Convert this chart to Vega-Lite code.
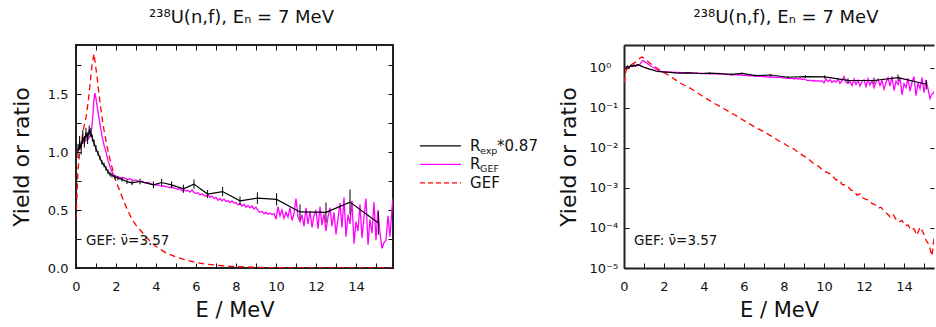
{
 "$schema": "https://vega.github.io/schema/vega-lite/v6.json",
 "padding": {"left": 8, "top": 7, "right": 0, "bottom": 0},
 "spacing": 16,
 "config": {
  "font": "DejaVu Sans",
  "axis": {"labelFont": "DejaVu Sans", "titleFont": "DejaVu Sans", "labelFontSize": 13, "titleFontSize": 21, "titleFontWeight": "normal", "labelColor": "#111", "titleColor": "#111", "tickColor": "#111", "domainColor": "#222", "grid": false, "labelFlush": false, "labelOverlap": false},
  "title": {"font": "DejaVu Sans", "fontSize": 18, "fontWeight": "normal", "color": "#111"}
 },
 "datasets": {
  "rexp": [
   {"E":0.10,"y":1.01,"lo":0.95,"hi":1.07},{"E":0.18,"y":1.08,"lo":1.02,"hi":1.14},{"E":0.26,"y":1.04,"lo":0.98,"hi":1.10},{"E":0.34,"y":1.13,"lo":1.07,"hi":1.19},{"E":0.42,"y":1.09,"lo":1.04,"hi":1.14},{"E":0.50,"y":1.16,"lo":1.11,"hi":1.21},{"E":0.58,"y":1.12,"lo":1.07,"hi":1.17},{"E":0.66,"y":1.19,"lo":1.15,"hi":1.23},{"E":0.74,"y":1.17,"lo":1.13,"hi":1.21},{"E":0.82,"y":1.12,"lo":1.09,"hi":1.15},{"E":0.90,"y":1.08,"lo":1.05,"hi":1.11},{"E":1.00,"y":1.03,"lo":1.00,"hi":1.06},{"E":1.10,"y":0.99,"lo":0.97,"hi":1.01},{"E":1.20,"y":0.95,"lo":0.93,"hi":0.97},{"E":1.30,"y":0.91,"lo":0.89,"hi":0.93},{"E":1.40,"y":0.89,"lo":0.87,"hi":0.91},{"E":1.50,"y":0.86,"lo":0.84,"hi":0.88},{"E":1.60,"y":0.83,"lo":0.81,"hi":0.85},{"E":1.70,"y":0.81,"lo":0.79,"hi":0.83},{"E":1.80,"y":0.80,"lo":0.78,"hi":0.82},{"E":1.95,"y":0.785,"lo":0.765,"hi":0.805},{"E":2.10,"y":0.775,"lo":0.755,"hi":0.795},{"E":2.30,"y":0.765,"lo":0.745,"hi":0.785},{"E":2.55,"y":0.745,"lo":0.725,"hi":0.765},{"E":2.80,"y":0.735,"lo":0.715,"hi":0.755},{"E":3.20,"y":0.747,"lo":0.722,"hi":0.772},{"E":3.87,"y":0.718,"lo":0.688,"hi":0.748},{"E":4.28,"y":0.738,"lo":0.708,"hi":0.768},{"E":4.78,"y":0.718,"lo":0.688,"hi":0.748},{"E":5.37,"y":0.684,"lo":0.649,"hi":0.719},{"E":5.90,"y":0.724,"lo":0.684,"hi":0.764},{"E":6.58,"y":0.638,"lo":0.603,"hi":0.673},{"E":7.33,"y":0.66,"lo":0.62,"hi":0.70},{"E":8.20,"y":0.58,"lo":0.544,"hi":0.616},{"E":9.07,"y":0.603,"lo":0.553,"hi":0.653},{"E":10.03,"y":0.592,"lo":0.539,"hi":0.645},{"E":11.20,"y":0.484,"lo":0.419,"hi":0.549},{"E":12.50,"y":0.48,"lo":0.394,"hi":0.566},{"E":13.70,"y":0.569,"lo":0.461,"hi":0.677},{"E":15.12,"y":0.388,"lo":0.288,"hi":0.488}
  ],
  "rgef": [
   {"E":0.05,"y":1.00},{"E":0.1,"y":1.02},{"E":0.2,"y":1.05},{"E":0.3,"y":1.08},{"E":0.4,"y":1.09},{"E":0.5,"y":1.10},{"E":0.6,"y":1.11},{"E":0.7,"y":1.14},{"E":0.8,"y":1.22},{"E":0.9,"y":1.46},{"E":0.95,"y":1.51},{"E":1.0,"y":1.46},{"E":1.1,"y":1.35},{"E":1.2,"y":1.24},{"E":1.3,"y":1.14},{"E":1.4,"y":1.06},{"E":1.5,"y":1.00},{"E":1.6,"y":0.93},{"E":1.7,"y":0.875},{"E":1.8,"y":0.83},{"E":1.9,"y":0.80},{"E":2.0,"y":0.79},
   {"E":2.1,"y":0.785},{"E":2.2,"y":0.78},{"E":2.3,"y":0.775},{"E":2.4,"y":0.78},{"E":2.5,"y":0.77},{"E":2.6,"y":0.765},{"E":2.7,"y":0.77},{"E":2.8,"y":0.76},{"E":2.9,"y":0.755},{"E":3.0,"y":0.76},{"E":3.1,"y":0.75},{"E":3.2,"y":0.745},{"E":3.3,"y":0.75},{"E":3.4,"y":0.74},{"E":3.5,"y":0.735},{"E":3.6,"y":0.74},{"E":3.7,"y":0.73},{"E":3.8,"y":0.725},{"E":3.9,"y":0.72},{"E":4.0,"y":0.715},{"E":4.1,"y":0.72},{"E":4.2,"y":0.71},{"E":4.3,"y":0.705},{"E":4.4,"y":0.71},{"E":4.5,"y":0.70},{"E":4.6,"y":0.70},{"E":4.7,"y":0.695},{"E":4.8,"y":0.70},{"E":4.9,"y":0.69},
   {"E":5.0,"y":0.685},{"E":5.1,"y":0.68},{"E":5.2,"y":0.685},{"E":5.3,"y":0.665},{"E":5.4,"y":0.675},{"E":5.5,"y":0.665},{"E":5.6,"y":0.67},{"E":5.7,"y":0.655},{"E":5.8,"y":0.675},{"E":5.9,"y":0.65},{"E":6.0,"y":0.645},{"E":6.1,"y":0.65},{"E":6.2,"y":0.63},{"E":6.3,"y":0.64},{"E":6.4,"y":0.625},{"E":6.5,"y":0.62},{"E":6.6,"y":0.635},{"E":6.7,"y":0.61},{"E":6.8,"y":0.62},{"E":6.9,"y":0.60},{"E":7.0,"y":0.61},{"E":7.1,"y":0.585},{"E":7.2,"y":0.60},{"E":7.3,"y":0.58},{"E":7.4,"y":0.595},{"E":7.5,"y":0.575},{"E":7.6,"y":0.58},{"E":7.7,"y":0.565},{"E":7.8,"y":0.58},{"E":7.9,"y":0.56},{"E":8.0,"y":0.565},{"E":8.1,"y":0.545},{"E":8.2,"y":0.555},{"E":8.3,"y":0.535},{"E":8.4,"y":0.55},{"E":8.5,"y":0.525},{"E":8.6,"y":0.54},{"E":8.7,"y":0.52},{"E":8.8,"y":0.535},{"E":8.9,"y":0.51},{"E":9.0,"y":0.525},{"E":9.1,"y":0.495},{"E":9.2,"y":0.48},{"E":9.3,"y":0.49},{"E":9.4,"y":0.47},{"E":9.5,"y":0.48},{"E":9.6,"y":0.465},{"E":9.7,"y":0.475},{"E":9.8,"y":0.46},{"E":9.9,"y":0.47},
   {"E":10.0,"y":0.42},{"E":10.1,"y":0.53},{"E":10.2,"y":0.45},{"E":10.3,"y":0.50},{"E":10.4,"y":0.43},{"E":10.5,"y":0.48},{"E":10.6,"y":0.44},{"E":10.7,"y":0.52},{"E":10.8,"y":0.41},{"E":10.9,"y":0.47},{"E":11.0,"y":0.60},{"E":11.1,"y":0.44},{"E":11.2,"y":0.40},{"E":11.3,"y":0.46},{"E":11.4,"y":0.36},{"E":11.5,"y":0.52},{"E":11.6,"y":0.38},{"E":11.7,"y":0.49},{"E":11.8,"y":0.35},{"E":11.9,"y":0.45},{"E":12.0,"y":0.50},{"E":12.1,"y":0.34},{"E":12.2,"y":0.53},{"E":12.3,"y":0.37},{"E":12.4,"y":0.47},{"E":12.5,"y":0.32},{"E":12.6,"y":0.44},{"E":12.7,"y":0.52},{"E":12.8,"y":0.36},{"E":12.9,"y":0.48},{"E":13.0,"y":0.29},{"E":13.1,"y":0.43},{"E":13.2,"y":0.56},{"E":13.3,"y":0.35},{"E":13.4,"y":0.61},{"E":13.5,"y":0.27},{"E":13.6,"y":0.46},{"E":13.7,"y":0.38},{"E":13.8,"y":0.58},{"E":13.9,"y":0.21},{"E":14.0,"y":0.40},{"E":14.1,"y":0.32},{"E":14.2,"y":0.55},{"E":14.3,"y":0.26},{"E":14.4,"y":0.44},{"E":14.5,"y":0.60},{"E":14.6,"y":0.20},{"E":14.7,"y":0.42},{"E":14.8,"y":0.30},{"E":14.9,"y":0.57},{"E":15.0,"y":0.24},{"E":15.1,"y":0.50},{"E":15.2,"y":0.30},{"E":15.3,"y":0.17},{"E":15.4,"y":0.22},{"E":15.5,"y":0.24},{"E":15.6,"y":0.45},{"E":15.7,"y":0.27},{"E":15.8,"y":0.52},{"E":15.85,"y":0.60}
  ],
  "gef": [
   {"E":0.0,"y":0.42},{"E":0.1,"y":0.85},{"E":0.2,"y":1.02},{"E":0.3,"y":1.12},{"E":0.4,"y":1.22},{"E":0.5,"y":1.30},{"E":0.6,"y":1.42},{"E":0.7,"y":1.58},{"E":0.8,"y":1.75},{"E":0.9,"y":1.85},{"E":1.0,"y":1.72},{"E":1.1,"y":1.58},{"E":1.2,"y":1.43},{"E":1.3,"y":1.30},{"E":1.4,"y":1.19},{"E":1.5,"y":1.10},{"E":1.6,"y":1.01},{"E":1.7,"y":0.94},{"E":1.8,"y":0.87},{"E":1.9,"y":0.80},{"E":2.0,"y":0.75},{"E":2.2,"y":0.66},{"E":2.4,"y":0.57},{"E":2.6,"y":0.49},{"E":2.8,"y":0.42},{"E":3.0,"y":0.37},{"E":3.2,"y":0.33},{"E":3.4,"y":0.29},{"E":3.6,"y":0.25},{"E":3.8,"y":0.215},{"E":4.0,"y":0.185},{"E":4.5,"y":0.13},{"E":5.0,"y":0.095},{"E":5.5,"y":0.068},{"E":6.0,"y":0.048},{"E":6.5,"y":0.034},{"E":7.0,"y":0.025},{"E":7.5,"y":0.018},{"E":7.75,"y":0.0148},{"E":8.0,"y":0.0128},{"E":8.25,"y":0.0106},{"E":8.5,"y":0.0093},{"E":8.75,"y":0.0074},{"E":9.0,"y":0.0062},{"E":9.25,"y":0.0051},{"E":9.5,"y":0.0040},{"E":9.75,"y":0.0034},
   {"E":10.0,"y":0.0026},{"E":10.15,"y":0.00245},{"E":10.3,"y":0.00225},{"E":10.45,"y":0.00192},{"E":10.6,"y":0.00158},{"E":10.75,"y":0.00162},{"E":10.9,"y":0.00122},{"E":11.05,"y":0.00118},{"E":11.2,"y":0.00108},{"E":11.35,"y":0.00088},{"E":11.5,"y":0.00084},{"E":11.65,"y":0.00066},{"E":11.8,"y":0.00071},{"E":11.95,"y":0.00056},{"E":12.1,"y":0.00052},{"E":12.25,"y":0.00049},{"E":12.4,"y":0.00041},{"E":12.55,"y":0.00038},{"E":12.7,"y":0.00031},{"E":12.85,"y":0.00033},{"E":13.0,"y":0.00026},{"E":13.15,"y":0.00023},{"E":13.3,"y":0.00019},{"E":13.45,"y":0.00022},{"E":13.6,"y":0.000165},{"E":13.75,"y":0.00014},{"E":13.9,"y":0.000155},{"E":14.05,"y":0.000115},{"E":14.2,"y":0.000118},{"E":14.35,"y":0.000088},{"E":14.5,"y":0.000095},{"E":14.65,"y":0.000066},{"E":14.8,"y":0.000105},{"E":14.95,"y":0.000078},{"E":15.1,"y":0.00005},{"E":15.25,"y":0.000038},{"E":15.4,"y":0.00002},{"E":15.5,"y":0.000056},{"E":15.65,"y":0.000046},{"E":15.8,"y":0.000035}
  ],
  "leg": [
   {"series":"Rexp","row":1,"main":"R","sub":"exp","tail":"*0.87"},
   {"series":"RGEF","row":2,"main":"R","sub":"GEF","tail":""},
   {"series":"GEF","row":3,"main":"GEF","sub":"","tail":""}
  ]
 },
 "hconcat": [
  {
   "width": 317, "height": 223,
   "title": {"text": "²³⁸U(n,f), Eₙ = 7 MeV", "dx": 7, "offset": 18},
   "view": {"stroke": "#222", "strokeWidth": 2},
   "layer": [
    {"data": {"name": "gef"}, "mark": {"type": "line", "color": "#ff0000", "strokeDash": [6, 4], "strokeWidth": 1.3, "clip": true},
     "encoding": {
      "x": {"field": "E", "type": "quantitative", "scale": {"domain": [0, 15.85], "nice": false, "zero": false},
            "axis": {"orient": "top", "values": [0,1,2,3,4,5,6,7,8,9,10,11,12,13,14,15], "labels": false, "tickSize": -5, "domain": false, "title": null}},
      "y": {"field": "y", "type": "quantitative", "scale": {"domain": [0, 1.925], "nice": false},
            "axis": {"orient": "right", "values": [0,0.25,0.5,0.75,1,1.25,1.5,1.75], "labels": false, "tickSize": -5, "domain": false, "title": null}}
     }},
    {"data": {"name": "rgef"}, "mark": {"type": "line", "color": "#ff00ff", "strokeWidth": 1.3, "clip": true},
     "encoding": {
      "x": {"field": "E", "type": "quantitative", "scale": {"domain": [0, 15.85], "nice": false, "zero": false},
            "axis": {"orient": "bottom", "values": [0,1,2,3,4,5,6,7,8,9,10,11,12,13,14,15], "format": "d", "labelExpr": "datum.value % 2 == 0 ? datum.label : ''", "tickSize": -5, "labelPadding": 17, "domain": false, "title": "E / MeV", "titleY": 42, "titleBaseline": "middle"}},
      "y": {"field": "y", "type": "quantitative", "scale": {"domain": [0, 1.925], "nice": false},
            "axis": {"orient": "left", "values": [0,0.25,0.5,0.75,1,1.25,1.5,1.75], "format": ".1f", "labelExpr": "datum.value % 0.5 == 0 ? datum.label : ''", "tickSize": -5, "labelPadding": 13, "domain": false, "title": "Yield or ratio", "titleX": -55, "titleBaseline": "middle", "titleFontSize": 22}}
     }},
    {"data": {"name": "rexp"}, "mark": {"type": "line", "color": "#000000", "strokeWidth": 1.2, "clip": true},
     "encoding": {
      "x": {"field": "E", "type": "quantitative", "axis": null},
      "y": {"field": "y", "type": "quantitative", "axis": null}
     }},
    {"data": {"name": "rexp"}, "mark": {"type": "rule", "color": "#000000", "strokeWidth": 1, "clip": true},
     "encoding": {
      "x": {"field": "E", "type": "quantitative", "axis": null},
      "y": {"field": "lo", "type": "quantitative", "axis": null},
      "y2": {"field": "hi"}
     }},
    {"data": {"values": [{"E": 0.5, "y": 0.235, "t": "GEF: ν̄=3.57"}]}, "mark": {"type": "text", "align": "left", "baseline": "middle", "fontSize": 13.5, "color": "#111"},
     "encoding": {
      "x": {"field": "E", "type": "quantitative", "axis": null},
      "y": {"field": "y", "type": "quantitative", "axis": null},
      "text": {"field": "t"}
     }}
   ]
  },
  {
   "width": 129, "height": 223,
   "view": {"stroke": null},
   "data": {"name": "leg"},
   "layer": [
    {"mark": {"type": "rule", "strokeWidth": 1.3},
     "encoding": {
      "x": {"datum": 0, "type": "quantitative", "scale": {"domain": [-0.22, 2.926], "nice": false, "zero": false}, "axis": null},
      "x2": {"datum": 1},
      "y": {"field": "row", "type": "quantitative", "scale": {"domain": [-4.45, 7.6], "nice": false, "zero": false, "reverse": true}, "axis": null},
      "color": {"field": "series", "type": "nominal", "scale": {"domain": ["Rexp", "RGEF", "GEF"], "range": ["#000000", "#ff00ff", "#ff0000"]}, "legend": null},
      "strokeDash": {"field": "series", "type": "nominal", "scale": {"domain": ["Rexp", "RGEF", "GEF"], "range": [[1, 0], [1, 0], [5, 3]]}, "legend": null}
     }},
    {"mark": {"type": "text", "align": "left", "baseline": "middle", "fontSize": 15, "color": "#111"},
     "encoding": {"x": {"datum": 1.22, "type": "quantitative"}, "y": {"field": "row", "type": "quantitative"}, "text": {"field": "main"}}},
    {"mark": {"type": "text", "align": "left", "baseline": "middle", "fontSize": 9.5, "dx": 10, "dy": 5, "color": "#111"},
     "encoding": {"x": {"datum": 1.22, "type": "quantitative"}, "y": {"field": "row", "type": "quantitative"}, "text": {"field": "sub"}}},
    {"mark": {"type": "text", "align": "left", "baseline": "middle", "fontSize": 15, "dx": 27, "color": "#111"},
     "encoding": {"x": {"datum": 1.22, "type": "quantitative"}, "y": {"field": "row", "type": "quantitative"}, "text": {"field": "tail"}}}
   ]
  },
  {
   "width": 310, "height": 223,
   "title": {"text": "²³⁸U(n,f), Eₙ = 7 MeV", "dx": 7, "offset": 18},
   "view": {"stroke": null},
   "layer": [
    {"data": {"name": "gef"}, "mark": {"type": "line", "color": "#ff0000", "strokeDash": [6, 4], "strokeWidth": 1.3, "clip": true},
     "encoding": {
      "x": {"field": "E", "type": "quantitative", "scale": {"domain": [0, 15.5], "nice": false, "zero": false},
            "axis": {"orient": "top", "values": [0,1,2,3,4,5,6,7,8,9,10,11,12,13,14,15], "labels": false, "tickSize": -5, "domain": true, "domainWidth": 2, "title": null}},
      "y": {"field": "y", "type": "quantitative", "scale": {"type": "log", "domain": [0.00001, 3.7], "nice": false},
            "axis": {"orient": "right", "values": [0.00001,0.0001,0.001,0.01,0.1,1], "labels": false, "tickSize": -4, "domain": false, "title": null}}
     }},
    {"data": {"name": "rgef"}, "mark": {"type": "line", "color": "#ff00ff", "strokeWidth": 1.3, "clip": true},
     "encoding": {
      "x": {"field": "E", "type": "quantitative", "scale": {"domain": [0, 15.5], "nice": false, "zero": false},
            "axis": {"orient": "bottom", "values": [0,1,2,3,4,5,6,7,8,9,10,11,12,13,14,15], "format": "d", "labelExpr": "datum.value % 2 == 0 ? datum.label : ''", "tickSize": -5, "labelPadding": 17, "domain": true, "domainWidth": 2, "title": "E / MeV", "titleY": 42, "titleBaseline": "middle"}},
      "y": {"field": "y", "type": "quantitative", "scale": {"type": "log", "domain": [0.00001, 3.7], "nice": false},
            "axis": {"orient": "left", "values": [0.00001,0.0001,0.001,0.01,0.1,1], "labelExpr": "datum.value > 0.5 ? '10⁰' : datum.value > 0.05 ? '10⁻¹' : datum.value > 0.005 ? '10⁻²' : datum.value > 0.0005 ? '10⁻³' : datum.value > 0.00005 ? '10⁻⁴' : '10⁻⁵'", "labelAlign": "left", "tickSize": -5, "labelPadding": 40, "domain": true, "domainWidth": 2, "title": "Yield or ratio", "titleX": -56, "titleBaseline": "middle", "titleFontSize": 22}}
     }},
    {"data": {"name": "rexp"}, "mark": {"type": "line", "color": "#000000", "strokeWidth": 1.2, "clip": true},
     "encoding": {
      "x": {"field": "E", "type": "quantitative", "axis": null},
      "y": {"field": "y", "type": "quantitative", "axis": null}
     }},
    {"data": {"name": "rexp"}, "mark": {"type": "rule", "color": "#000000", "strokeWidth": 1, "clip": true},
     "encoding": {
      "x": {"field": "E", "type": "quantitative", "axis": null},
      "y": {"field": "lo", "type": "quantitative", "axis": null},
      "y2": {"field": "hi"}
     }},
    {"data": {"values": [{"E": 0.5, "y": 0.000047, "t": "GEF: ν̄=3.57"}]}, "mark": {"type": "text", "align": "left", "baseline": "middle", "fontSize": 13.5, "color": "#111"},
     "encoding": {
      "x": {"field": "E", "type": "quantitative", "axis": null},
      "y": {"field": "y", "type": "quantitative", "axis": null},
      "text": {"field": "t"}
     }}
   ]
  }
 ]
}
